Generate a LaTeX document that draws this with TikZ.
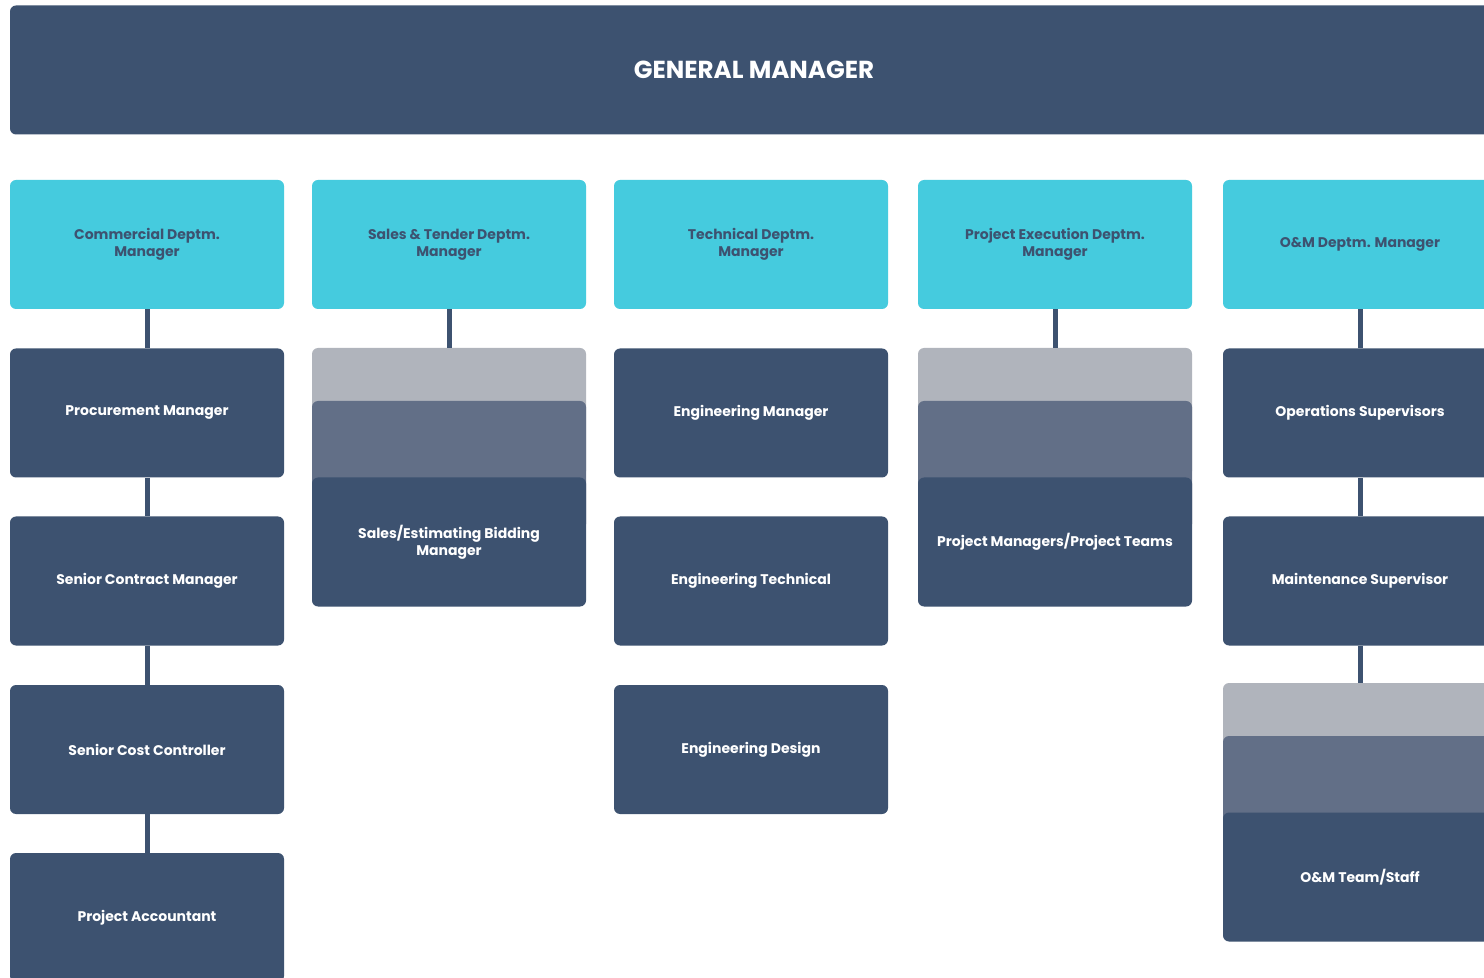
\documentclass[tikz,border=0pt]{standalone}
\usepackage{fontspec}
\setmainfont{Poppins}
\usetikzlibrary{positioning}

\definecolor{navy}{HTML}{3D5270}
\definecolor{aqua}{HTML}{45CBDE}
\definecolor{paleback}{HTML}{B0B4BC}
\definecolor{midback}{HTML}{626F87}

\tikzset{
    box/.style = {rounded corners = 3pt, inner sep = 0pt, minimum width = 137pt, minimum height = 64.5pt,
        align = center, font = \fontsize{7}{8.5}\selectfont\bfseries},
    role/.style = {box, fill = navy, text = white},
    dept/.style = {box, fill = aqua, text = navy},
    backpale/.style = {box, fill = paleback},
    backmid/.style = {box, fill = midback},
    link/.style = {draw = navy, line width = 2.5pt}
}

\begin{document}
\begin{tikzpicture}[x = 0.5pt, y = -0.5pt]
        \clip (0, 0) rectangle (1484, 978);
        \fill [white] (0, 0) rectangle (1484, 978);

        % top
        \node [role, minimum width = 744pt, font = \fontsize{12.3}{14}\selectfont\bfseries] (gm) at (754, 70) {GENERAL MANAGER};

        % departments
        \node [dept] (comm) at (147, 244.5) {Commercial Deptm.\\Manager};
        \node [dept] (sales) at (449, 244.5) {Sales \& Tender Deptm.\\Manager};
        \node [dept] (tech) at (751, 244.5) {Technical Deptm.\\Manager};
        \node [dept] (exec) at (1055, 244.5) {Project Execution Deptm.\\Manager};
        \node [dept] (om) at (1360, 244.5) {O\&M Deptm. Manager};

        % commercial
        \node [role] (proc) at (147, 413) {Procurement Manager};
        \node [role] (contract) at (147, 581) {Senior Contract Manager};
        \node [role] (cost) at (147, 749.5) {Senior Cost Controller};
        \node [role] (account) at (147, 917.5) {Project Accountant};

        % sales
        \node [backpale] (salesA) at (449, 412.5) {};
        \node [backmid] (salesB) at (449, 465.5) {};
        \node [role] (bidding) at (449, 542) {Sales/Estimating Bidding\\Manager};

        % technical
        \node [role] (engman) at (751, 413) {Engineering Manager};
        \node [role] (engtech) at (751, 581) {Engineering Technical};
        \node [role] (engdes) at (751, 749.5) {Engineering Design};

        % execution
        \node [backpale] (execA) at (1055, 412.5) {};
        \node [backmid] (execB) at (1055, 465.5) {};
        \node [role] (teams) at (1055, 542) {Project Managers/Project Teams};

        % o&m
        \node [role] (ops) at (1360, 413) {Operations Supervisors};
        \node [role] (maint) at (1360, 581) {Maintenance Supervisor};
        \node [backpale] (omA) at (1360, 747.5) {};
        \node [backmid] (omB) at (1360, 800.5) {};
        \node [role] (staff) at (1360, 877) {O\&M Team/Staff};

        \draw [link] (comm) -- (proc);
        \draw [link] (proc) -- (contract);
        \draw [link] (contract) -- (cost);
        \draw [link] (cost) -- (account);
        \draw [link] (sales) -- (salesA);
        \draw [link] (exec) -- (execA);
        \draw [link] (om) -- (ops);
        \draw [link] (ops) -- (maint);
        \draw [link] (maint) -- (omA);
    \end{tikzpicture}
\end{document}
